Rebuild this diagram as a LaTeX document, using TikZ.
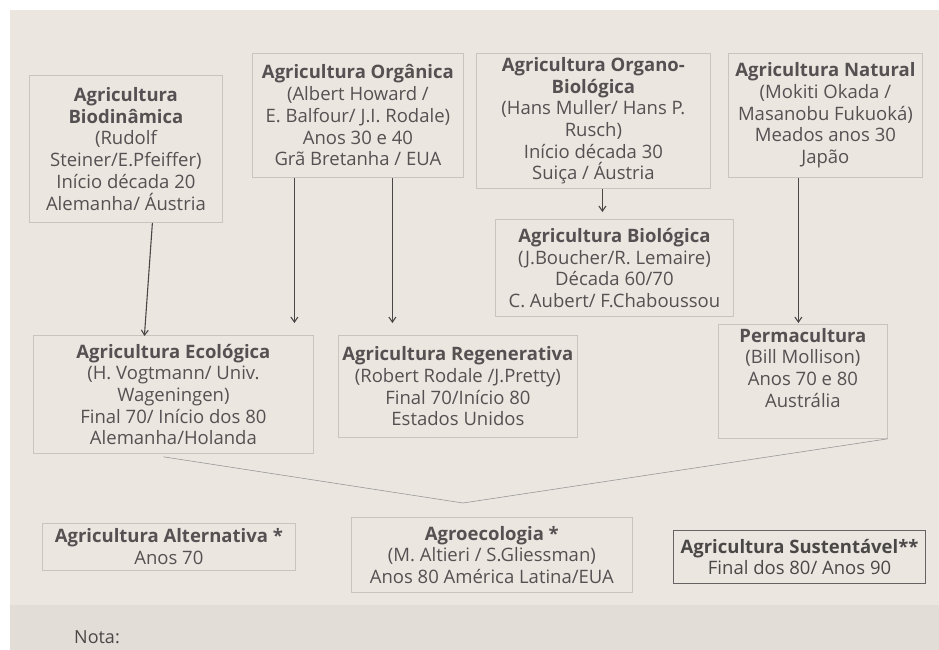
\documentclass[tikz,border=0pt]{standalone}
\usepackage{fontspec}
\setmainfont{Open Sans}
\usetikzlibrary{arrows.meta,calc}
\definecolor{paper}{HTML}{ECE6E0}
\definecolor{boxline}{HTML}{CBC4BD}
\definecolor{ink}{HTML}{4A4747}
\definecolor{txt}{HTML}{555152}
\tikzset{
  box/.style={draw=boxline, line width=0.8pt, anchor=north west, inner sep=0pt,
    align=center, text=txt, font=\fontsize{18.5}{21.7}\selectfont},
  darkbox/.style={box, draw=ink!85, line width=1.1pt, text=ink},
  arr/.style={draw=ink, line width=1.1pt, -{Straight Barb[length=5pt,width=7pt]}},
  thin/.style={draw=black!40, line width=0.6pt},
}
\newcommand{\ttl}[1]{\textbf{#1}}
\begin{document}
\begin{tikzpicture}[x=1pt,y=-1pt]
\useasboundingbox (0,0) rectangle (939,650);
\fill[white] (0,0) rectangle (939,650);
\fill[paper] (10,10) rectangle (939,650);
\fill[paper!96!black] (10,605) rectangle (939,650);

\node[box, minimum width=193pt, minimum height=147pt] (bio) at (29,75)
  {\ttl{Agricultura}\\\ttl{Biodinâmica}\\(Rudolf\\Steiner/E.Pfeiffer)\\Início década 20\\Alemanha/ Áustria};
\node[box, minimum width=211pt, minimum height=124pt] (org) at (252,53)
  {\ttl{Agricultura Orgânica}\\(Albert Howard /\\E. Balfour/ J.I. Rodale)\\Anos 30 e 40\\Grã Bretanha / EUA};
\node[box, minimum width=234pt, minimum height=135pt] (orb) at (476,53)
  {\ttl{Agricultura Organo-}\\\ttl{Biológica}\\(Hans Muller/ Hans P.\\Rusch)\\Início década 30\\Suiça / Áustria};
\node[box, minimum width=194pt, minimum height=124pt] (nat) at (728,53)
  {\ttl{Agricultura Natural}\\(Mokiti Okada /\\Masanobu Fukuoká)\\Meados anos 30\\Japão};
\node[box, minimum width=238pt, minimum height=97pt] (biol) at (495,219)
  {\ttl{Agricultura Biológica}\\(J.Boucher/R. Lemaire)\\Década 60/70\\C. Aubert/ F.Chaboussou};
\node[box, minimum width=280pt, minimum height=118pt] (eco) at (33,335)
  {\ttl{Agricultura Ecológica}\\(H. Vogtmann/ Univ.\\Wageningen)\\Final 70/ Início dos 80\\Alemanha/Holanda};
\node[box, minimum width=239pt, minimum height=102pt] (reg) at (338,335)
  {\ttl{Agricultura Regenerativa}\\(Robert Rodale /J.Pretty)\\Final 70/Início 80\\Estados Unidos};
\node[box, minimum width=169pt, minimum height=114pt] (perm) at (718,324) {};
\node[anchor=north, align=center, inner sep=0pt, text=txt, font=\fontsize{18.5}{21.7}\selectfont]
  (permtxt) at ([yshift=-4pt]perm.north)
  {\ttl{Permacultura}\\(Bill Mollison)\\Anos 70 e 80\\Austrália};
\node[box, minimum width=253pt, minimum height=47pt] (alt) at (42,523)
  {\ttl{Agricultura Alternativa *}\\Anos 70};
\node[box, minimum width=281pt, minimum height=75pt] (agro) at (351,517)
  {\ttl{Agroecologia *}\\(M. Altieri / S.Gliessman)\\Anos 80 América Latina/EUA};
\node[darkbox, minimum width=252pt, minimum height=53pt] (sus) at (673,530)
  {\ttl{Agricultura Sustentável**}\\Final dos 80/ Anos 90};

\draw[arr] ([xshift=26.5pt]bio.south) -- ([xshift=-29pt,yshift=-1pt]eco.north);
\draw[arr] ([xshift=-63.5pt]org.south) -- ([xshift=121pt,yshift=12pt]eco.north);
\draw[arr] ([xshift=34.5pt]org.south) -- ([xshift=-65.5pt,yshift=12pt]reg.north);
\draw[arr] ([xshift=9pt]orb.south) -- ([xshift=-12pt,yshift=7pt]biol.north);
\draw[arr] ([xshift=-27pt]nat.south) -- ([xshift=-4.5pt,yshift=1pt]perm.north);

\coordinate (meet) at (463,503);
\draw[thin] ([xshift=-10pt,yshift=-3pt]eco.south) -- (meet);
\draw[thin] (perm.south east) -- (meet);

\node[anchor=north west, inner sep=0pt, text=ink, font=\fontsize{18}{20}\selectfont] (nota) at (74,630) {Nota:};
\end{tikzpicture}
\end{document}
